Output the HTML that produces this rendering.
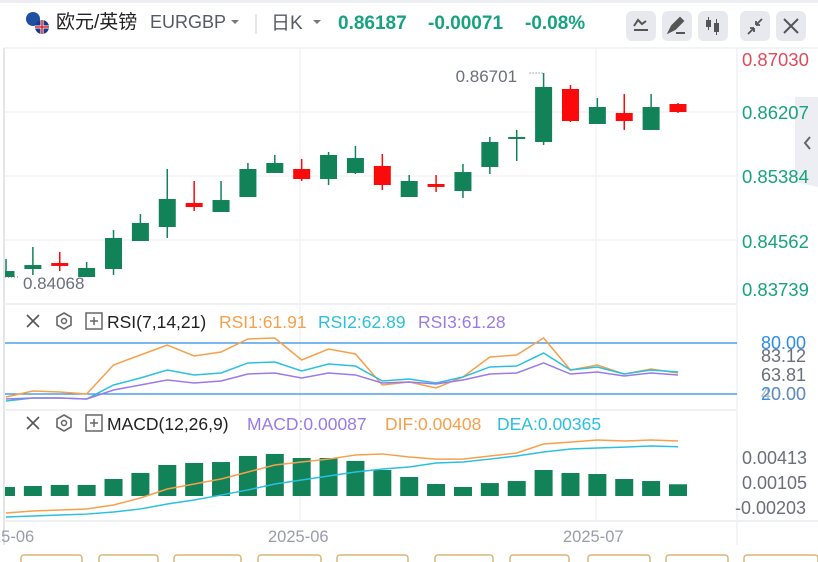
<!DOCTYPE html>
<html><head><meta charset="utf-8"><style>
html,body{margin:0;padding:0;background:#fff;}
body{width:818px;height:562px;overflow:hidden;position:relative;font-family:"Liberation Sans","Noto Sans CJK SC",sans-serif;}
svg{position:absolute;left:0;top:0;}
</style></head><body>
<svg id="c" width="818" height="562" xmlns="http://www.w3.org/2000/svg">
<defs><clipPath id="plotclip"><rect x="5" y="48" width="732" height="473"/></clipPath></defs>
<rect x="0" y="0" width="818" height="562" fill="#fff"/>
<rect x="0" y="0" width="818" height="3" fill="#eceef3"/>
<line x1="4" y1="48" x2="818" y2="48" stroke="#eef0f4" stroke-width="1.5"/>
<line x1="4" y1="48" x2="4" y2="545" stroke="#e3e5ec" stroke-width="2"/>
<g>
 <g>
  <circle cx="33" cy="19" r="7" fill="#1e4fa3"/>
  <circle cx="42" cy="27" r="7" fill="#1a3a8c"/>
  <path d="M35 27 h14 M42 20 v14" stroke="#fff" stroke-width="3"/>
  <path d="M35 27 h14 M42 20 v14" stroke="#d22" stroke-width="1.5"/>
 </g>
 <text x="56" y="28" font-size="19" fill="#222">欧元/英镑</text>
 <text x="150" y="28" font-size="18" fill="#555a66">EURGBP</text>
 <path d="M231 20 l4 4 l4 -4z" fill="#777"/>
 <line x1="256" y1="14" x2="256" y2="34" stroke="#ccc"/>
 <text x="271" y="29" font-size="19" fill="#555a66">日K</text>
 <path d="M313 20 l4 4 l4 -4z" fill="#777"/>
 <text x="338" y="29" font-size="19" font-weight="bold" fill="#17a37f">0.86187</text>
 <text x="428" y="29" font-size="19" font-weight="bold" fill="#17a37f">-0.00071</text>
 <text x="525" y="29" font-size="19" font-weight="bold" fill="#17a37f">-0.08%</text>
 <g><rect x="626" y="11" width="30" height="30" rx="6" fill="#e8e9ee"/><path d="M634 30 h14 M634 26 l4 -6 l4 4 l4 -3" stroke="#555" stroke-width="2" fill="none"/></g>
 <g><rect x="662" y="11" width="30" height="30" rx="6" fill="#e8e9ee"/><path d="M669 32 l3 -6 l8 -8 l3 3 l-8 8z M676 33 h9" stroke="#555" stroke-width="2" fill="#555"/></g>
 <g><rect x="698" y="11" width="30" height="30" rx="6" fill="#e8e9ee"/><rect x="706" y="20" width="5" height="7" fill="#555"/><rect x="714" y="23" width="5" height="9" fill="#555"/><line x1="708.5" y1="17" x2="708.5" y2="30" stroke="#555"/><line x1="716.5" y1="19" x2="716.5" y2="35" stroke="#555"/></g>
 <g><rect x="740" y="11" width="30" height="30" rx="6" fill="#e8e9ee"/><path d="M748 34 l6 -6 M754 28 h-4 M754 28 v4 M762 19 l-6 6 M756 25 h4 M756 25 v-4" stroke="#555" stroke-width="1.8"/></g>
 <g><rect x="776" y="11" width="30" height="30" rx="6" fill="#e8e9ee"/><path d="M784 19 l14 14 M798 19 l-14 14" stroke="#555" stroke-width="2"/></g>
</g>
<line x1="737" y1="48" x2="737" y2="545" stroke="#eef0f4" stroke-width="1.5"/>
<line x1="4" y1="304" x2="737" y2="304" stroke="#eef0f4" stroke-width="2"/>
<line x1="4" y1="410" x2="737" y2="410" stroke="#eef0f4" stroke-width="2"/>
<line x1="4" y1="521" x2="818" y2="521" stroke="#eef0f4" stroke-width="2"/>
<path d="M795 97 l23 0 l0 90 l-23 -5z" fill="#eceef3"/>
<path d="M810 137 l-5 6 l5 6" stroke="#666" stroke-width="2" fill="none"/>
<g id="price"></g>
<g id="rsi"></g>
<g id="macd"></g>
<g id="ticks"></g>
<g>
 <path d="M27 315 l12 12 M39 315 l-12 12" stroke="#555" stroke-width="1.6"/>
 <path d="M64 313 l7 4 v8 l-7 4 l-7 -4 v-8z" stroke="#666" stroke-width="1.6" fill="none"/><circle cx="64" cy="321" r="2.5" stroke="#666" fill="none" stroke-width="1.5"/>
 <rect x="86" y="313" width="16" height="16" stroke="#666" fill="none" stroke-width="1.5"/><path d="M90 321 h8 M94 317 v8" stroke="#666" stroke-width="1.5"/>
 <text x="107" y="328" font-size="17.5" fill="#222">RSI(7,14,21)</text>
 <text x="219" y="328" font-size="17.5" fill="#f7a04b">RSI1:61.91</text>
 <text x="318" y="328" font-size="17.5" fill="#2bc0e0">RSI2:62.89</text>
 <text x="418" y="328" font-size="17.5" fill="#9b7ae8">RSI3:61.28</text>
</g>
<g>
 <path d="M27 417 l12 12 M39 417 l-12 12" stroke="#555" stroke-width="1.6"/>
 <path d="M64 415 l7 4 v8 l-7 4 l-7 -4 v-8z" stroke="#666" stroke-width="1.6" fill="none"/><circle cx="64" cy="423" r="2.5" stroke="#666" fill="none" stroke-width="1.5"/>
 <rect x="86" y="415" width="16" height="16" stroke="#666" fill="none" stroke-width="1.5"/><path d="M90 423 h8 M94 419 v8" stroke="#666" stroke-width="1.5"/>
 <text x="107" y="430" font-size="17.5" fill="#222">MACD(12,26,9)</text>
 <text x="247" y="430" font-size="17.5" fill="#9b7ae8">MACD:0.00087</text>
 <text x="385" y="430" font-size="17.5" fill="#f7a04b">DIF:0.00408</text>
 <text x="497" y="430" font-size="17.5" fill="#2bc0e0">DEA:0.00365</text>
</g>
<g font-size="16.5" fill="#9a9cab">
 <text x="-8" y="542">25-06</text>
 <text x="268" y="542">2025-06</text>
 <text x="563" y="542">2025-07</text>
</g>
<g fill="none" stroke="#d9b676" stroke-width="1.5">
 <rect x="21" y="555" width="61" height="12" rx="3"/><rect x="99" y="555" width="59" height="12" rx="3"/>
 <rect x="174" y="555" width="67" height="12" rx="3"/><rect x="258" y="555" width="63" height="12" rx="3"/>
 <rect x="337" y="555" width="71" height="12" rx="3"/><rect x="435" y="555" width="58" height="12" rx="3"/>
 <rect x="510" y="555" width="59" height="12" rx="3"/><rect x="588" y="555" width="62" height="12" rx="3"/>
 <rect x="666" y="555" width="62" height="12" rx="3"/><rect x="744" y="555" width="74" height="12" rx="3"/>
</g>
</svg>
<script>
const opens  = [0.84085,0.84188,0.84265,0.84085,0.84188,0.84548,0.84728,0.85037,0.84921,0.85114,0.85423,0.85474,0.85345,0.85423,0.85513,0.85114,0.85281,0.85191,0.85500,0.85873,0.85821,0.86503,0.86053,0.86194,0.85976,0.86310];
const highs  = [0.84317,0.84471,0.84407,0.84278,0.84690,0.84895,0.85474,0.85320,0.85320,0.85551,0.85654,0.85603,0.85693,0.85770,0.85667,0.85397,0.85397,0.85538,0.85886,0.85976,0.86709,0.86554,0.86387,0.86438,0.86438,0.86323];
const lows   = [0.84085,0.84111,0.84162,0.84085,0.84111,0.84548,0.84587,0.84934,0.84921,0.85114,0.85423,0.85320,0.85268,0.85410,0.85204,0.85114,0.85178,0.85101,0.85410,0.85577,0.85783,0.86078,0.86053,0.85976,0.85976,0.86194];
const closes = [0.84162,0.84239,0.84227,0.84201,0.84587,0.84780,0.85088,0.84985,0.85075,0.85474,0.85551,0.85345,0.85654,0.85615,0.85268,0.85320,0.85243,0.85435,0.85821,0.85886,0.86529,0.86091,0.86271,0.86091,0.86271,0.86207];
const priceTicks = ["0.87030","0.86207","0.85384","0.84562","0.83739"];
const rsi1 = [16.5,23.5,22.4,20.0,54.1,65.9,77.6,64.7,69.4,84.7,85.9,60.0,72.9,67.1,30.6,34.1,27.1,40.0,63.5,65.9,85.9,48.2,54.1,43.5,49.4,44.7];
const rsi2 = [11.8,15.3,15.3,14.1,30.6,38.8,48.2,42.4,44.7,56.5,57.6,47.1,55.3,52.9,35.3,37.6,32.9,40.0,51.8,52.9,68.2,48.2,51.8,43.5,48.2,45.9];
const rsi3 = [14.1,15.3,15.3,14.1,24.7,30.6,36.5,32.9,35.3,43.5,44.7,38.8,44.7,42.4,32.9,34.1,31.8,36.5,43.5,44.7,56.5,43.5,45.9,41.2,44.7,42.4];
const macdHist = [0.00067,0.00074,0.00082,0.00082,0.00126,0.00171,0.0023,0.00245,0.00252,0.00297,0.00312,0.00282,0.00282,0.0026,0.00193,0.00141,0.00089,0.00067,0.00096,0.00111,0.00193,0.00171,0.00163,0.00126,0.00111,0.00087];
const dif = [-0.00126,-0.00111,-0.00104,-0.00096,-0.00067,-0.00015,0.00052,0.00089,0.00126,0.00178,0.0023,0.00252,0.00274,0.00304,0.00312,0.00289,0.00274,0.00274,0.00297,0.00319,0.00386,0.004,0.00415,0.00408,0.00415,0.00408];
const dea = [-0.00156,-0.00148,-0.00141,-0.00134,-0.00119,-0.00096,-0.00059,-0.0003,0.00007,0.00045,0.00089,0.00119,0.00148,0.00178,0.002,0.00215,0.00245,0.00252,0.00274,0.00297,0.00326,0.00349,0.00356,0.00363,0.00371,0.00365];
const macdTicks = ["0.00413","0.00105","-0.00203"];
const rsiTicks = ["80.00","83.12","63.81","20.00"];

const NS="http://www.w3.org/2000/svg";
function mk(tag,attrs,parent){const e=document.createElementNS(NS,tag);for(const k in attrs)e.setAttribute(k,attrs[k]);parent.appendChild(e);return e;}
const xOf=i=>6+i*26.88;
const yP=p=>112-(p-0.86207)*7776;
const yR=v=>343+(80-v)*0.85;
const yM=v=>496-v*13480;
const G=document.getElementById('price'),R=document.getElementById('rsi'),M=document.getElementById('macd'),T=document.getElementById('ticks');
[G,R,M].forEach(g=>g.setAttribute('clip-path','url(#plotclip)'));

[112,176,240].forEach(y=>mk('line',{x1:4,y1:y,x2:737,y2:y,stroke:'#f0f1f5','stroke-width':1.2},G));
[300,596].forEach(x=>{mk('line',{x1:x,y1:48,x2:x,y2:521,stroke:'#f0f1f5','stroke-width':1.2},G);});
const tickY=[60,113,177,242,290];
priceTicks.forEach((t,i)=>{const e=mk('text',{x:742,y:tickY[i]+6,'font-size':18.5,fill:i==0?'#e04b5a':'#17a37f'},T);e.textContent=t;

});

for(let i=0;i<opens.length;i++){
 const up=closes[i]>=opens[i];const col=up?'#128259':'#fa0a0a';const x=xOf(i);
 const g=mk('g',{},G);
 
 
 mk('line',{x1:x,y1:yP(highs[i]),x2:x,y2:yP(lows[i]),stroke:col,'stroke-width':1.5},g);
 const t=yP(Math.max(opens[i],closes[i])),b=yP(Math.min(opens[i],closes[i]));
 mk('rect',{x:x-8.5,y:t,width:17,height:Math.max(2,b-t),fill:col},g);
}
let hi=0,lo=0;highs.forEach((v,i)=>{if(v>highs[hi])hi=i;});lows.forEach((v,i)=>{if(v<lows[lo])lo=i;});
const ht=mk('text',{x:xOf(hi)-88,y:yP(highs[hi])+9,'font-size':17,fill:'#6b6f7c'},T);ht.textContent='0.86701';


mk('line',{x1:xOf(hi)-14,y1:yP(highs[hi]),x2:xOf(hi),y2:yP(highs[hi]),stroke:'#666','stroke-dasharray':'1,2'},G);
const lt=mk('text',{x:23,y:yP(lows[lo])+12,'font-size':17,fill:'#6b6f7c'},T);lt.textContent='0.84068';


mk('line',{x1:5,y1:yP(lows[lo]),x2:20,y2:yP(lows[lo]),stroke:'#666','stroke-dasharray':'1,2'},G);

[80,20].forEach(v=>mk('line',{x1:4,y1:yR(v),x2:737,y2:yR(v),stroke:'#2b8de8','stroke-width':1.3},R));
const rsiTY=[343,356,375,394];
rsiTicks.forEach((t,i)=>{const e=mk('text',{x:761,y:rsiTY[i]+6,'font-size':18,fill:(i==0||i==3)?'#2b8de8':'#6b6f7c'},T);e.textContent=t;

});
const e40=mk('text',{x:761,y:400,'font-size':18,fill:'#8a8c98','fill-opacity':0.6},T);e40.textContent='40.00';
[[rsi1,'#f7a04b','rsi1-line'],[rsi2,'#2bc0e0','rsi2-line'],[rsi3,'#9b7ae8','rsi3-line']].forEach(([a,c,n])=>{
 const p=mk('polyline',{points:a.map((v,i)=>xOf(i)+','+yR(v)).join(' '),fill:'none',stroke:c,'stroke-width':1.5},R);
 
 
});

macdHist.forEach((v,i)=>{const y=yM(Math.max(v,0)),h=Math.abs(yM(v)-yM(0));
 const r=mk('rect',{x:xOf(i)-9,y:y,width:18,height:h,fill:v>=0?'#128259':'#fa0a0a'},M);
 
 });
[[dif,'#f7a04b','dif-line'],[dea,'#2bc0e0','dea-line']].forEach(([a,c,n])=>{
 const p=mk('polyline',{points:a.map((v,i)=>xOf(i)+','+yM(v)).join(' '),fill:'none',stroke:c,'stroke-width':1.5},M);
 
 
});
const mTY=[458,483,508];
macdTicks.forEach((t,i)=>{const e=mk('text',{x:i==2?735:742,y:mTY[i]+6,'font-size':18,fill:'#6b6f7c'},T);e.textContent=t;

});
</script>
</body></html>
